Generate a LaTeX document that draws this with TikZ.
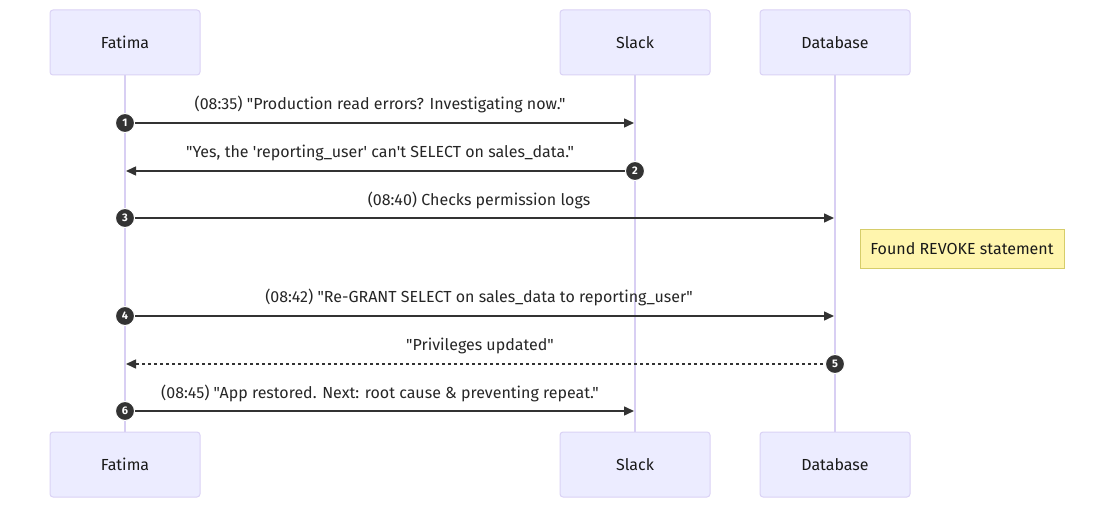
\documentclass[tikz,border=0pt]{standalone}
\usepackage{fontspec}
\newfontfamily\fira{Fira Sans}
\usetikzlibrary{arrows.meta}
\definecolor{actfill}{HTML}{ECECFF}
\definecolor{actline}{HTML}{DAD2F5}
\definecolor{lifeline}{HTML}{D8CFF3}
\definecolor{msg}{HTML}{333333}
\definecolor{notefill}{HTML}{FFF5AD}
\definecolor{noteline}{HTML}{D6CD6A}
\tikzset{
  actor/.style={draw=actline, fill=actfill, line width=1pt, rounded corners=3pt,
    minimum width=150pt, minimum height=65pt, inner sep=0pt, font=\fira\fontsize{16}{19}\selectfont, text=black!90},
  life/.style={draw=lifeline, line width=1.5pt},
  msgline/.style={draw=msg, line width=1.5pt, -{Triangle[length=10pt,width=9pt]}},
  dashmsg/.style={msgline, dash pattern=on 3pt off 3pt},
  lbl/.style={font=\fira\fontsize{16}{19}\selectfont, text=black!85, inner sep=0pt},
  num/.style={circle, fill=msg, draw=white, line width=1pt, minimum size=19pt, inner sep=0pt,
    text=white, font=\fira\fontsize{11}{12}\selectfont\bfseries},
  notebox/.style={draw=noteline, fill=notefill, line width=1pt, minimum width=204pt,
    minimum height=39pt, inner sep=0pt, font=\fira\fontsize{16}{19}\selectfont, text=black!90}
}
\begin{document}
\begin{tikzpicture}[x=1pt,y=-1pt]
\useasboundingbox (0,0) rectangle (1114,508);
% actors
\node[actor] (fT) at (125,42.5) {Fatima};
\node[actor] (sT) at (635,42.5) {Slack};
\node[actor] (dT) at (835,42.5) {Database};
\node[actor] (fB) at (125,464.5) {Fatima};
\node[actor] (sB) at (635,464.5) {Slack};
\node[actor] (dB) at (835,464.5) {Database};
% lifelines
\draw[life] (fT.south) -- (fB.north);
\draw[life] (sT.south) -- (sB.north);
\draw[life] (dT.south) -- (dB.north);
% coordinates on lifelines
\coordinate (f1) at (125,123); \coordinate (s1) at (634,123);
\coordinate (s2) at (635,171); \coordinate (f2) at (126,171);
\coordinate (f3) at (125,218); \coordinate (d3) at (834,218);
\coordinate (f4) at (125,316); \coordinate (d4) at (834,316);
\coordinate (d5) at (835,364); \coordinate (f5) at (126,364);
\coordinate (f6) at (125,411); \coordinate (s6) at (634,411);
% messages
\draw[msgline] (f1) -- (s1);
\node[lbl] (l1) at (380,104.5) {(08:35) "Production read errors? Investigating now."};
\node[num] (n1) at (f1) {1};
\draw[msgline] (s2) -- (f2);
\node[lbl] (l2) at (380,152.5) {"Yes, the 'reporting\_user' can't SELECT on sales\_data."};
\node[num] (n2) at (s2) {2};
\draw[msgline] (f3) -- (d3);
\node[lbl] (l3) at (479,200.5) {(08:40) Checks permission logs};
\node[num] (n3) at (f3) {3};
\node[notebox] (note) at (962,248.5) {Found REVOKE statement};
\draw[msgline] (f4) -- (d4);
\node[lbl] (l4) at (479,297.5) {(08:42) "Re-GRANT SELECT on sales\_data to reporting\_user"};
\node[num] (n4) at (f4) {4};
\draw[dashmsg] (d5) -- (f5);
\node[lbl] (l5) at (480,345.5) {"Privileges updated"};
\node[num] (n5) at (d5) {5};
\draw[msgline] (f6) -- (s6);
\node[lbl] (l6) at (380,393.5) {(08:45) "App restored. Next: root cause \& preventing repeat."};
\node[num] (n6) at (f6) {6};
\end{tikzpicture}
\end{document}
